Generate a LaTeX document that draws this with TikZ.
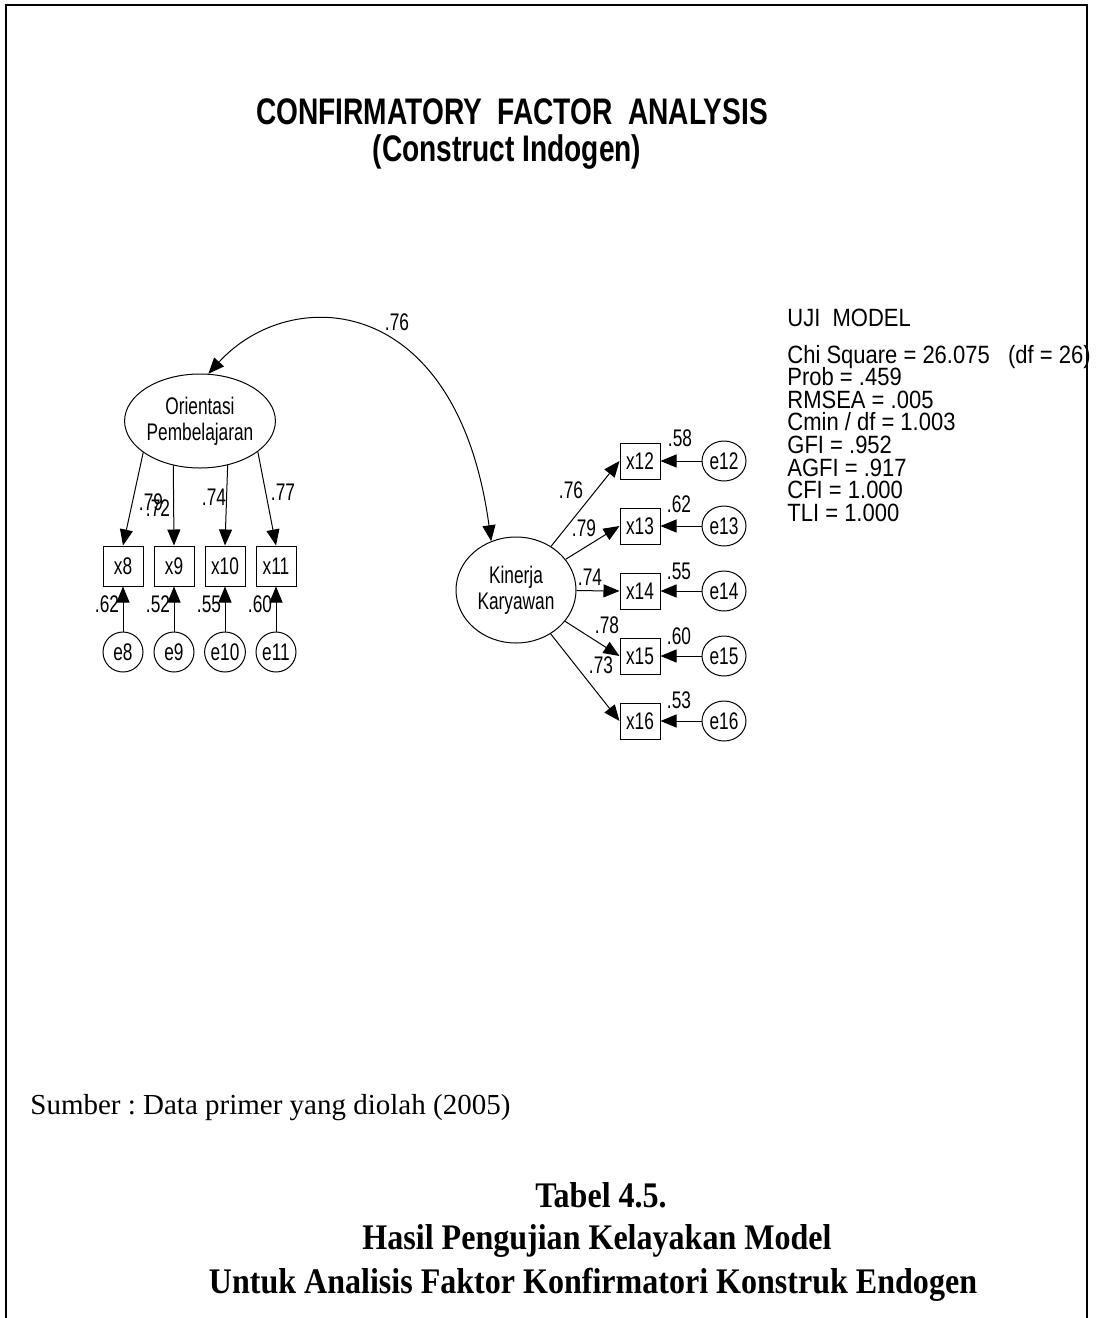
\documentclass[tikz,border=0pt]{standalone}
\usepackage{fontspec}
\setmainfont{Liberation Serif}
\newfontfamily\arn[FakeStretch=0.72]{Liberation Sans}
\newfontfamily\arw[FakeStretch=0.88]{Liberation Sans}
\newfontfamily\art[FakeStretch=0.76]{Liberation Sans}
\newfontfamily\tmb[FakeStretch=0.89]{Liberation Serif}
\usetikzlibrary{arrows.meta,shapes.geometric}
\begin{document}
\frenchspacing
\begin{tikzpicture}[x=0.5pt,y=-0.5pt,
  lblfont/.style={font=\arn\fontsize{12}{13}\selectfont},
  num/.style={lblfont, inner sep=0pt},
  obs/.style={draw, line width=0.5pt, lblfont, minimum width=20pt, minimum height=20pt, inner sep=0pt},
  obsr/.style={obs, minimum height=18pt},
  err/.style={draw, line width=0.5pt, ellipse, lblfont, minimum width=20pt, minimum height=20pt, inner sep=0pt},
  errr/.style={err, minimum width=22pt},
  lat/.style={draw, line width=0.5pt, ellipse, lblfont, align=center, inner sep=0pt},
  arr/.style={-{Triangle[length=8pt,width=6.5pt]}, line width=0.5pt},
  dbl/.style={{Triangle[length=8pt,width=6.5pt]}-{Triangle[length=8pt,width=6.5pt]}, line width=0.5pt},
  fittxt/.style={font=\arw\fontsize{12.5}{13}\selectfont, inner sep=0pt, anchor=base west},
  ttl/.style={font=\art\bfseries\fontsize{18.5}{20}\selectfont, inner sep=0pt},
  capt/.style={inner sep=0pt, font=\tmb\bfseries\fontsize{18}{20}\selectfont}
]
\useasboundingbox (0,0) rectangle (1096,1318);

% title
\node[ttl, anchor=base] (t1) at (512,124) {CONFIRMATORY\ \ FACTOR\ \ ANALYSIS};
\node[ttl, anchor=base] (t2) at (507,161) {(Construct Indogen)};

% latent variables
\node[lat, minimum width=73pt, minimum height=47pt] (O) at (200,421) {Orientasi\\Pembelajaran};
\node[lat, minimum width=60pt, minimum height=53pt] (K) at (516,590) {Kinerja\\Karyawan};

% left indicators
\node[obs] (x8)  at (123,566) {x8};
\node[obs] (x9)  at (174,566) {x9};
\node[obs] (x10) at (225,566) {x10};
\node[obs] (x11) at (276,566) {x11};
\node[err] (e8)  at (123,652) {e8};
\node[err] (e9)  at (174,652) {e9};
\node[err] (e10) at (225,652) {e10};
\node[err] (e11) at (276,652) {e11};

\draw[arr] (O.209) -- (x8.north);
\draw[arr] (O.239) -- (x9.north);
\draw[arr] (O.302) -- (x10.north);
\draw[arr] (O.332) -- (x11.north);
\foreach \i in {8,9,10,11}{\draw[arr] (e\i.north) -- (x\i.south);}

\node[num] (l8)  at (151,502) {.79};
\node[num] (l9)  at (158,508) {.72};
\node[num] (l10) at (214,497) {.74};
\node[num] (l11) at (283,492) {.77};
\node[num] (v8)  at (107,604) {.62};
\node[num] (v9)  at (158,604) {.52};
\node[num] (v10) at (209,604) {.55};
\node[num] (v11) at (260,604) {.60};

% right indicators
\node[obsr] (x12) at (640,461) {x12};
\node[obsr] (x13) at (640,526) {x13};
\node[obsr] (x14) at (640,591) {x14};
\node[obsr] (x15) at (640,656) {x15};
\node[obsr] (x16) at (640,721) {x16};
\node[errr] (e12) at (724,461) {e12};
\node[errr] (e13) at (724,526) {e13};
\node[errr] (e14) at (724,591) {e14};
\node[errr] (e15) at (724,656) {e15};
\node[errr] (e16) at (724,721) {e16};

\foreach \i in {12,...,16}{
  \draw[arr] (K) -- (x\i.west);
  \draw[arr] (e\i.west) -- (x\i.east);
}

\node[num] (l12) at (571,490) {.76};
\node[num] (l13) at (584,528) {.79};
\node[num] (l14) at (590,577) {.74};
\node[num] (l15) at (607,625) {.78};
\node[num] (l16) at (601,665) {.73};
\node[num] (v12) at (680,438) {.58};
\node[num] (v13) at (679,504) {.62};
\node[num] (v14) at (679,571) {.55};
\node[num] (v15) at (679,636) {.60};
\node[num] (v16) at (679,700) {.53};

% covariance
\draw[dbl] (K.117) .. controls (457,290) and (290,284) .. (O.80);
\node[num] (cov) at (397,322) {.76};

% fit indices
\node[fittxt] (uji) at (787,326) {UJI\ \ MODEL};
\node[fittxt] (f1) at (787,363) {Chi Square = 26.075\ \ \ (df = 26)};
\node[fittxt] (f2) at (787,385.6) {Prob = .459};
\node[fittxt] (f3) at (787,408.2) {RMSEA = .005};
\node[fittxt] (f4) at (787,430.8) {Cmin / df = 1.003};
\node[fittxt] (f5) at (787,453.4) {GFI = .952};
\node[fittxt] (f6) at (787,476) {AGFI = .917};
\node[fittxt] (f7) at (787,498.6) {CFI = 1.000};
\node[fittxt] (f8) at (787,521.2) {TLI = 1.000};

% source and caption
\node[anchor=base west, inner sep=0pt, font=\fontsize{14.5}{16}\selectfont] (src) at (30,1114) {Sumber : Data primer yang diolah (2005)};
\node[capt] (c1) at (601,1195) {Tabel 4.5.};
\node[capt] (c2) at (597,1241) {Hasil Pengujian Kelayakan Model};
\node[capt] (c3) at (593,1285) {Untuk Analisis Faktor Konfirmatori Konstruk Endogen};

% frame
\draw[line width=1pt] (6,1318) -- (6,5) -- (1087,5) -- (1087,1318);
\end{tikzpicture}
\end{document}
